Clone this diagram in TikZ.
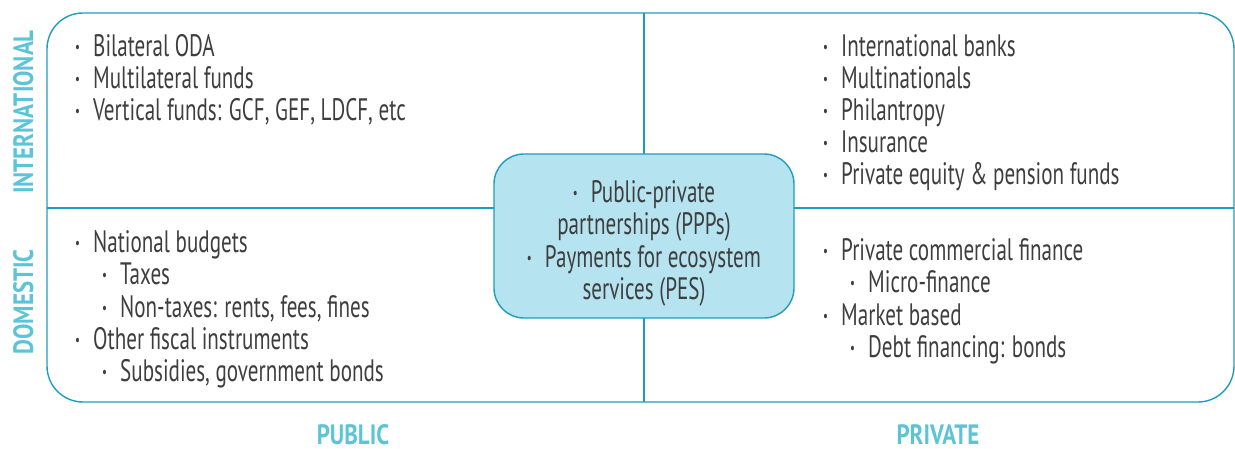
\documentclass[tikz,border=0pt]{standalone}
\usepackage{fontspec}
\setmainfont{PT Sans}[FakeStretch=0.68]
\newfontfamily\labfont{PT Sans Bold}[FakeStretch=0.82]
\definecolor{edge}{HTML}{1E9CC0}
\definecolor{cfill}{HTML}{B5E3F0}
\definecolor{txt}{HTML}{3E3E3E}
\definecolor{lab}{HTML}{5CC4D7}
\newcommand{\bl}{\makebox[18pt][l]{\raisebox{4pt}{\fontsize{16}{16}\selectfont •}}}
\begin{document}
\begin{tikzpicture}[x=1pt,y=-1pt,
  item/.style={anchor=base west,inner sep=0pt,text=txt,font=\fontsize{31}{32}\selectfont},
  citem/.style={anchor=base,inner sep=0pt,text=txt,font=\fontsize{31}{32}\selectfont},
  axlab/.style={anchor=base,inner sep=0pt,text=lab,font=\fontsize{28}{28}\selectfont\labfont},
  frame/.style={draw=edge,line width=1.4pt}]
\useasboundingbox (0,0) rectangle (1235,449);
% outer frame and dividers
\draw[frame,rounded corners=36pt] (47,13) rectangle (1234,402);
\coordinate (hl) at (47,208);
\coordinate (hr) at (1234,208);
\coordinate (vt) at (644,13);
\coordinate (vb) at (644,402);
\draw[frame] (hl) -- (hr);
\draw[frame] (vt) -- (vb);
% centre box
\node[draw=edge,fill=cfill,line width=1.4pt,rounded corners=30pt,minimum width=300pt,minimum height=164pt,inner sep=0pt] (ctr) at (644,236) {};
\node[citem] (c1) at (644,203) {\bl Public-private};
\node[citem] (c2) at (644,235) {partnerships (PPPs)};
\node[citem] (c3) at (644,268) {\bl Payments for ecosystem};
\node[citem] (c4) at (644,300) {services (PES)};
% top-left
\node[item] (a1) at (75,57) {\bl Bilateral ODA};
\node[item] (a2) at (75,89) {\bl Multilateral funds};
\node[item] (a3) at (75,121) {\bl Vertical funds: GCF, GEF, LDCF, etc};
% top-right
\node[item] (b1) at (823,57) {\bl International banks};
\node[item] (b2) at (823,89) {\bl Multinationals};
\node[item] (b3) at (823,121) {\bl Philantropy};
\node[item] (b4) at (823,153) {\bl Insurance};
\node[item] (b5) at (823,185) {\bl Private equity \& pension funds};
% bottom-left
\node[item] (d1) at (75,253) {\bl National budgets};
\node[item] (d2) at (102,285) {\bl Taxes};
\node[item] (d3) at (102,317) {\bl Non-taxes: rents, fees, fines};
\node[item] (d4) at (75,349) {\bl Other fiscal instruments};
\node[item] (d5) at (102,381) {\bl Subsidies, government bonds};
% bottom-right
\node[item] (e1) at (823,261) {\bl Private commercial finance};
\node[item] (e2) at (850,293) {\bl Micro-finance};
\node[item] (e3) at (823,325) {\bl Market based};
\node[item] (e4) at (850,357) {\bl Debt financing: bonds};
% axis labels
\node[axlab,rotate=90] (intl) at (33,112) {INTERNATIONAL};
\node[axlab,rotate=90] (dom) at (33,302) {DOMESTIC};
\node[axlab] (pub) at (353,444) {PUBLIC};
\node[axlab] (priv) at (938,444) {PRIVATE};
\end{tikzpicture}
\end{document}
